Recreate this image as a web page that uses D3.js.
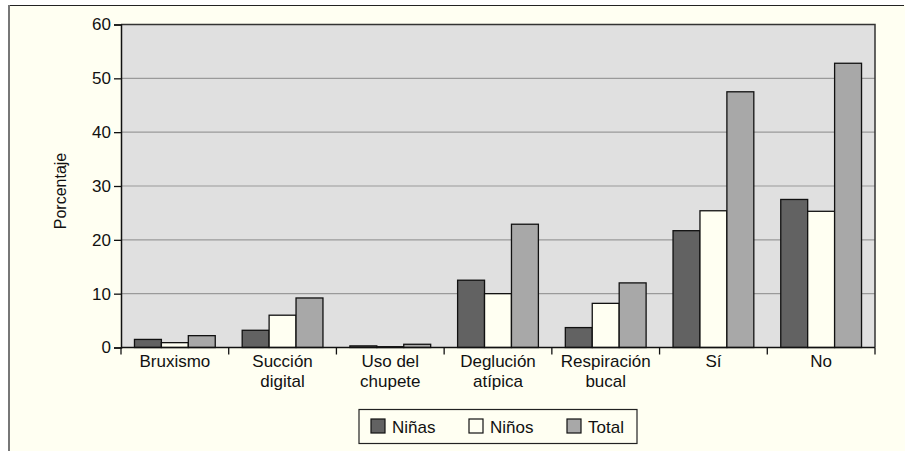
<!DOCTYPE html>
<html>
<head>
<meta charset="utf-8">
<script src="https://cdn.jsdelivr.net/npm/d3@7"></script>
<style>
  html, body { margin: 0; padding: 0; background: #ffffff; }
  svg { display: block; }
  text { font-family: "Liberation Sans", Arial, sans-serif; fill: #111; }
</style>
</head>
<body>
<svg id="chart" width="905" height="451"></svg>
<script>
// Hábitos por grupo: porcentaje de niñas, niños y total
const categories = [["Bruxismo"], ["Succión", "digital"], ["Uso del", "chupete"], ["Deglución", "atípica"], ["Respiración", "bucal"], ["Sí"], ["No"]];
const seriesNames = ["Niñas", "Niños", "Total"];
const ninas = [1.5, 3.2, 0.3, 12.5, 3.7, 21.7, 27.5];
const ninos = [0.9, 6.0, 0.15, 10.0, 8.2, 25.4, 25.3];
const total = [2.2, 9.2, 0.6, 22.9, 12.0, 47.5, 52.8];
const yTicks = [0, 10, 20, 30, 40, 50, 60];
const seriesColors = ["#626262", "#fffff2", "#a8a8a8"];

const svg = d3.select("#chart");
const W = 905, H = 451;

// frame
svg.append("rect").attr("x", 9).attr("y", 5).attr("width", W - 9).attr("height", H - 5).attr("fill", "#fffff2");
svg.append("line").attr("x1", 9).attr("x2", 904).attr("y1", 5.5).attr("y2", 5.5).attr("stroke", "#222").attr("stroke-width", 1.2);
svg.append("line").attr("x1", 9).attr("x2", 9).attr("y1", 5).attr("y2", H).attr("stroke", "#777").attr("stroke-width", 2);

const plot = { left: 121, right: 875, top: 24.5, bottom: 347.5 };

const keys = categories.map(c => c.join(" "));
const x = d3.scaleBand().domain(keys).range([plot.left, plot.right]).paddingInner(0).paddingOuter(0);
const xs = d3.scaleBand().domain(seriesNames).range([0, x.bandwidth()]).paddingInner(0).paddingOuter(0.5);
const y = d3.scaleLinear().domain([0, 60]).range([plot.bottom, plot.top]);

// plot background
svg.append("rect").attr("x", plot.left).attr("y", plot.top)
  .attr("width", plot.right - plot.left).attr("height", plot.bottom - plot.top)
  .attr("fill", "#e0e0e0");

// gridlines
svg.append("g").selectAll("line").data(yTicks.filter(t => t > 0 && t < 60)).join("line")
  .attr("x1", plot.left).attr("x2", plot.right)
  .attr("y1", d => y(d)).attr("y2", d => y(d))
  .attr("stroke", "#9a9a9a").attr("stroke-width", 1.2);

// plot border top/right
svg.append("path")
  .attr("d", `M${plot.left},${plot.top}H${plot.right}V${plot.bottom}`)
  .attr("fill", "none").attr("stroke", "#333").attr("stroke-width", 1.5);

// bars
const data = [ninas, ninos, total];
const gBars = svg.append("g");
keys.forEach((k, i) => {
  seriesNames.forEach((s, j) => {
    const v = data[j][i];
    gBars.append("rect")
      .attr("x", x(k) + xs(s))
      .attr("y", y(v))
      .attr("width", xs.bandwidth())
      .attr("height", y(0) - y(v))
      .attr("fill", seriesColors[j])
      .attr("stroke", "#111")
      .attr("stroke-width", 1.3);
  });
});

// y axis
const yAxis = d3.axisLeft(y).tickValues(yTicks).tickSize(7).tickPadding(3);
const gy = svg.append("g").attr("transform", `translate(${plot.left},0)`).call(yAxis);
gy.attr("font-size", 17).attr("font-family", "'Liberation Sans', Arial, sans-serif");
gy.select(".domain").attr("stroke", "#111").attr("stroke-width", 1.5);
gy.selectAll(".tick line").attr("stroke", "#111").attr("stroke-width", 1.3);
gy.selectAll(".tick text").attr("fill", "#111");

// x axis
const xBoundaries = keys.map(k => x(k)).concat([plot.right]);
const gx = svg.append("g");
gx.append("line").attr("x1", plot.left).attr("x2", plot.right)
  .attr("y1", plot.bottom).attr("y2", plot.bottom).attr("stroke", "#111").attr("stroke-width", 1.5);
gx.selectAll("line.tk").data(xBoundaries).join("line").attr("class", "tk")
  .attr("x1", d => d).attr("x2", d => d)
  .attr("y1", plot.bottom).attr("y2", plot.bottom + 7)
  .attr("stroke", "#111").attr("stroke-width", 1.3);
categories.forEach((lines, i) => {
  const t = gx.append("text")
    .attr("x", x(keys[i]) + x.bandwidth() / 2)
    .attr("y", 367)
    .attr("text-anchor", "middle")
    .attr("font-size", 17);
  lines.forEach((ln, li) => {
    t.append("tspan").attr("x", x(keys[i]) + x.bandwidth() / 2)
      .attr("dy", li === 0 ? 0 : 20).text(ln);
  });
});

// y axis title
svg.append("text")
  .attr("transform", "translate(66,191) rotate(-90)")
  .attr("text-anchor", "middle")
  .attr("font-size", 16)
  .text("Porcentaje");

// legend
const lg = svg.append("g");
lg.append("rect").attr("x", 359).attr("y", 409.5).attr("width", 278).attr("height", 34)
  .attr("fill", "#fffff2").attr("stroke", "#222").attr("stroke-width", 1.2);
const legendX = [371, 469, 567];
seriesNames.forEach((s, j) => {
  lg.append("rect").attr("x", legendX[j]).attr("y", 419).attr("width", 14).attr("height", 14)
    .attr("fill", seriesColors[j]).attr("stroke", "#111").attr("stroke-width", 1.2);
  lg.append("text").attr("x", legendX[j] + 21).attr("y", 432.5).attr("font-size", 17).text(s);
});
</script>
</body>
</html>
